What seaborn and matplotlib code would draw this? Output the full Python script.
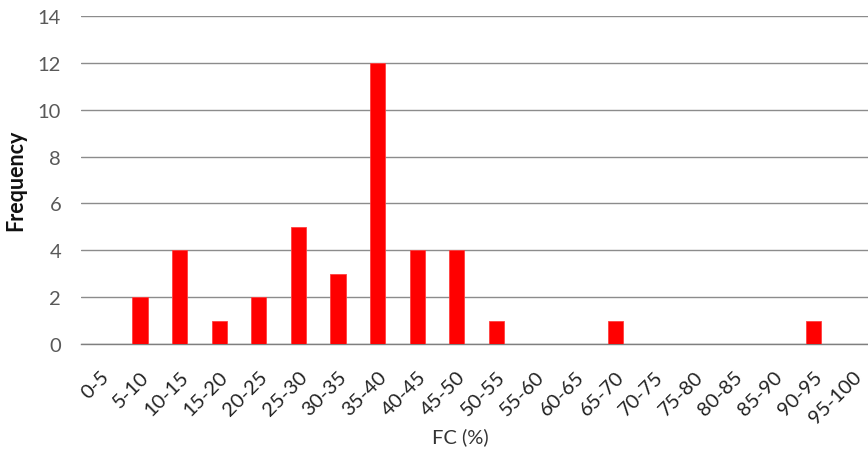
import matplotlib
matplotlib.use("Agg")
import matplotlib.pyplot as plt
import seaborn as sns
import pandas as pd

categories = ["0-5", "5-10", "10-15", "15-20", "20-25", "25-30", "30-35", "35-40",
              "40-45", "45-50", "50-55", "55-60", "60-65", "65-70", "70-75", "75-80",
              "80-85", "85-90", "90-95", "95-100"]
frequency = [0, 2, 4, 1, 2, 5, 3, 12, 4, 4, 1, 0, 0, 1, 0, 0, 0, 0, 1, 0]
y_ticks = [0, 2, 4, 6, 8, 10, 12, 14]

sns.set_theme(style="white")
plt.rcParams['font.family'] = ['Lato', 'DejaVu Sans']

df = pd.DataFrame({"FC": categories, "Frequency": frequency})

fig = plt.figure(figsize=(8.68, 4.52), dpi=100)
ax_left, ax_w = 80.6, 792.0
ax = fig.add_axes([ax_left/868, 1 - 345/452, ax_w/868, (345 - 17)/452])

sns.barplot(data=df, x="FC", y="Frequency", color="#ff0000", width=0.38,
            saturation=1, ax=ax, zorder=3, edgecolor="#ff4040", linewidth=0.6)

ax.set_ylim(0, 14)
ax.set_xlim(-0.5, len(categories) - 0.5)
ax.set_yticks(y_ticks)
ax.yaxis.grid(True, color="#8c8c8c", linewidth=1.0, zorder=0)
ax.set_axisbelow(True)
for s in ["top", "right", "left"]:
    ax.spines[s].set_visible(False)
ax.spines["bottom"].set_color("#7f7f7f")
ax.spines["bottom"].set_linewidth(1.0)
ax.tick_params(axis="y", length=0, pad=14, labelsize=14.5, labelcolor="#595959")
ax.tick_params(axis="x", length=0, pad=17, labelsize=14.5, labelcolor="#222222")
plt.setp(ax.get_xticklabels(), rotation=45, ha="right", va="top", rotation_mode="anchor")

ax.set_ylabel("Frequency", fontsize=15.5, fontweight="bold", color="#111111")
ax.yaxis.set_label_coords((26 - ax_left)/ax_w, 0.503)
ax.set_xlabel("FC (%)", fontsize=14.5, color="#333333", va="center")
ax.xaxis.set_label_coords((460 - ax_left)/ax_w, -0.28)

fig.savefig("out.png", dpi=100)
